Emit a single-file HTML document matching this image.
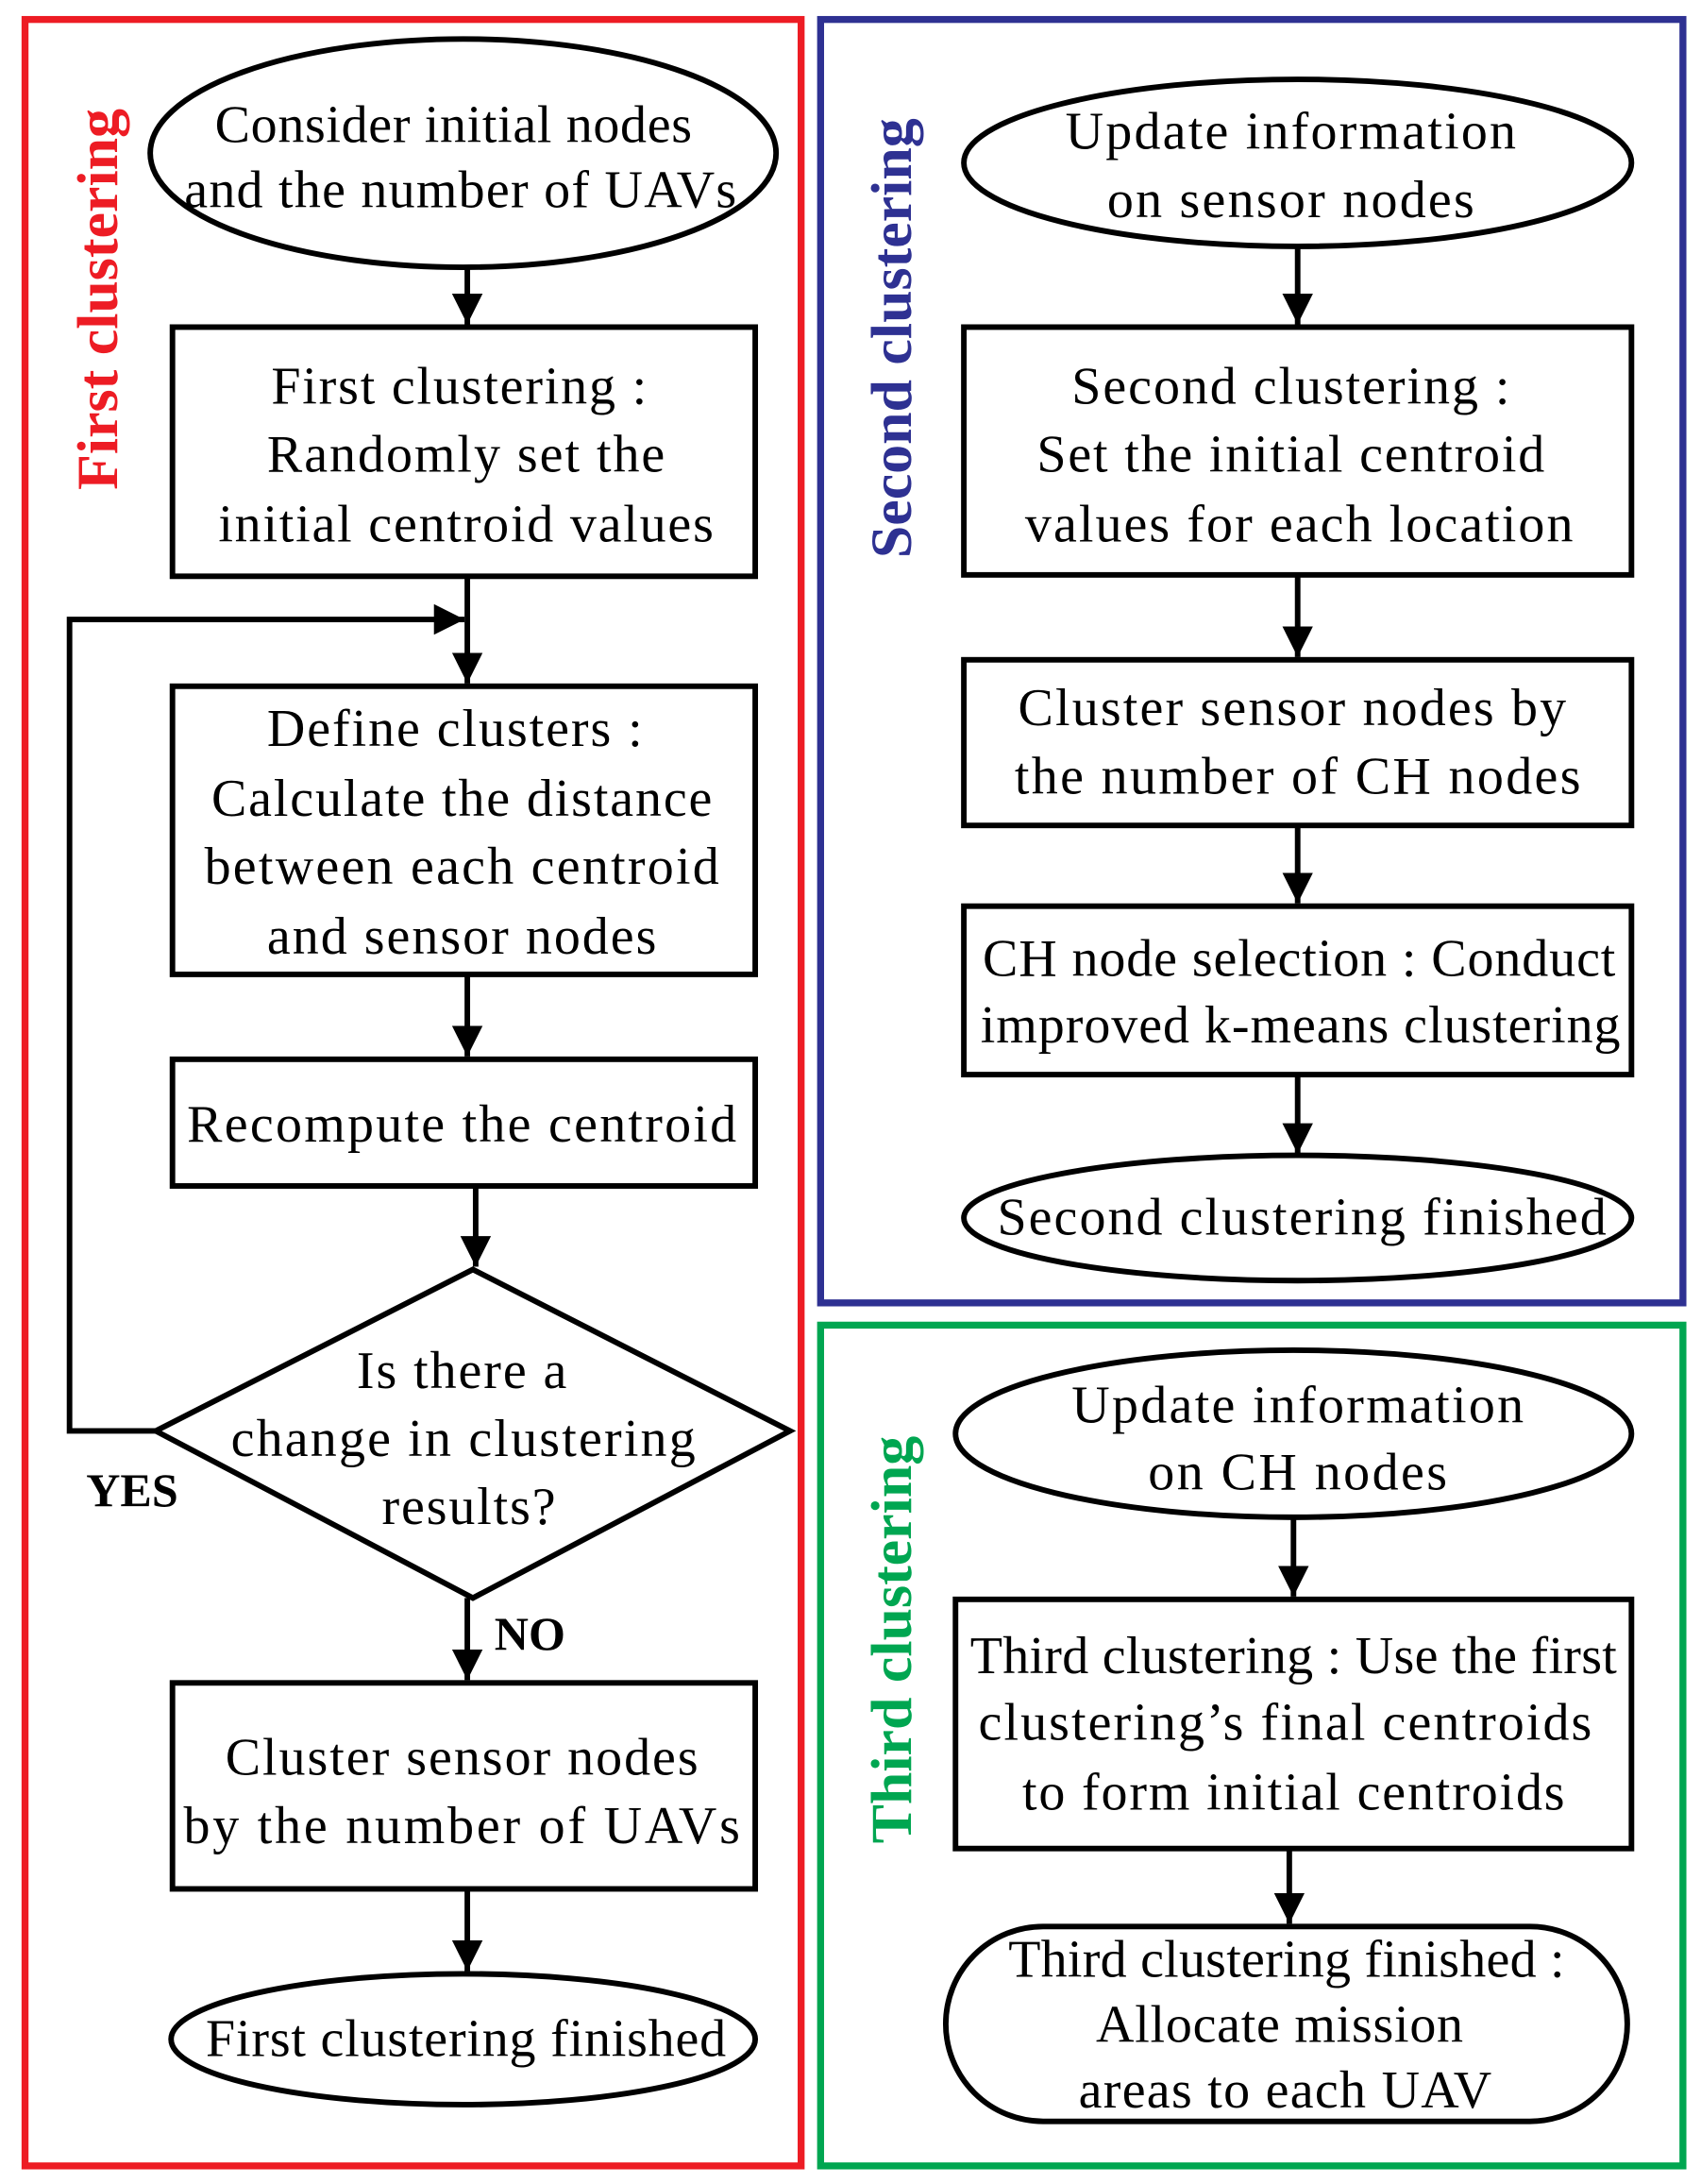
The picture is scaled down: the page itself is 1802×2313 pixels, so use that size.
<!DOCTYPE html>
<html><head><meta charset="utf-8"><style>
html,body{margin:0;padding:0;background:#fff;}
svg{display:block;}
text{font-family:"Liberation Serif",serif;font-size:38px;fill:#000;text-anchor:middle;}
.lab{font-weight:bold;font-size:42px;}
</style></head><body>
<svg width="1802" height="2313" viewBox="0 0 1223 1569" preserveAspectRatio="none" xmlns="http://www.w3.org/2000/svg">
<defs><marker id="b" viewBox="0 0 10 10" markerWidth="22" markerHeight="22" refX="10" refY="5" orient="auto" markerUnits="userSpaceOnUse"><path d="M0,0 L10,5 L0,10 Z" fill="#000"/></marker></defs>
<rect x="18" y="14" width="558" height="1542" fill="none" stroke="#ed1c24" stroke-width="5"/>
<rect x="590" y="14" width="620" height="922" fill="none" stroke="#2e3192" stroke-width="5"/>
<rect x="590" y="952" width="620" height="604" fill="none" stroke="#00a651" stroke-width="5"/>
<g fill="none" stroke="#000" stroke-width="4">
<ellipse cx="333" cy="110" rx="225" ry="82"/>
<rect x="124" y="235" width="419" height="179"/>
<rect x="124" y="493" width="419" height="207"/>
<rect x="124" y="761" width="419" height="91"/>
<path d="M340,912 L568,1028 L340,1148 L112,1028 Z"/>
<rect x="124" y="1209" width="419" height="148"/>
<ellipse cx="333" cy="1465" rx="210" ry="47"/>
<ellipse cx="933" cy="117" rx="240" ry="60"/>
<rect x="693" y="235" width="480" height="178"/>
<rect x="693" y="474" width="480" height="119"/>
<rect x="693" y="651" width="480" height="121"/>
<ellipse cx="933" cy="875" rx="240" ry="45"/>
<ellipse cx="930" cy="1030" rx="243" ry="60"/>
<rect x="687" y="1149" width="486" height="179"/>
<rect x="680" y="1384" width="490" height="140" rx="70"/>
</g>
<g stroke="#000" stroke-width="4" fill="none" marker-end="url(#b)">
<line x1="336" y1="192" x2="336" y2="233"/>
<line x1="336" y1="414" x2="336" y2="491"/>
<polyline points="112,1028 50,1028 50,445 334,445"/>
<line x1="336" y1="700" x2="336" y2="759"/>
<line x1="342" y1="852" x2="342" y2="910"/>
<line x1="336" y1="1148" x2="336" y2="1207"/>
<line x1="336" y1="1357" x2="336" y2="1416"/>
<line x1="933" y1="177" x2="933" y2="233"/>
<line x1="933" y1="413" x2="933" y2="472"/>
<line x1="933" y1="593" x2="933" y2="649"/>
<line x1="933" y1="772" x2="933" y2="829"/>
<line x1="930" y1="1090" x2="930" y2="1147"/>
<line x1="927" y1="1328" x2="927" y2="1382"/>
</g>
<g lengthAdjust="spacingAndGlyphs">
<text x="326" y="102" textLength="343">Consider initial nodes</text>
<text x="331" y="149" textLength="397">and the number of UAVs</text>
<text x="330" y="290" textLength="270">First clustering :</text>
<text x="335" y="339" textLength="286">Randomly set the</text>
<text x="335" y="389" textLength="356">initial centroid values</text>
<text x="327" y="536" textLength="270">Define clusters :</text>
<text x="332" y="586" textLength="360">Calculate the distance</text>
<text x="332" y="635" textLength="370">between each centroid</text>
<text x="332" y="685" textLength="280">and sensor nodes</text>
<text x="332" y="820" textLength="395">Recompute the centroid</text>
<text x="332" y="997" textLength="151">Is there a</text>
<text x="333" y="1046" textLength="334">change in clustering</text>
<text x="337" y="1095" textLength="125">results?</text>
<text x="332" y="1275" textLength="340">Cluster sensor nodes</text>
<text x="332" y="1324" textLength="400">by the number of UAVs</text>
<text x="335" y="1477" textLength="374">First clustering finished</text>
<text x="928" y="107" textLength="324">Update information</text>
<text x="928" y="156" textLength="264">on sensor nodes</text>
<text x="928" y="290" textLength="315">Second clustering :</text>
<text x="928" y="339" textLength="365">Set the initial centroid</text>
<text x="934" y="389" textLength="394">values for each location</text>
<text x="929" y="521" textLength="394">Cluster sensor nodes by</text>
<text x="933" y="570" textLength="407">the number of CH nodes</text>
<text x="934" y="701" textLength="455">CH node selection : Conduct</text>
<text x="935" y="749" textLength="460">improved k-means clustering</text>
<text x="936" y="887" textLength="438">Second clustering finished</text>
<text x="933" y="1022" textLength="325">Update information</text>
<text x="933" y="1070" textLength="215">on CH nodes</text>
<text x="930" y="1202" textLength="465">Third clustering : Use the first</text>
<text x="924" y="1250" textLength="441">clustering’s final centroids</text>
<text x="930" y="1300" textLength="390">to form initial centroids</text>
<text x="925" y="1420" textLength="400">Third clustering finished :</text>
<text x="920" y="1467" textLength="264">Allocate mission</text>
<text x="924" y="1514" textLength="297">areas to each UAV</text>
</g>
<text x="95" y="1082" style="font-weight:bold;font-size:34px">YES</text>
<text x="381" y="1185" style="font-weight:bold;font-size:34px">NO</text>
<text class="lab" x="-215" y="84" transform="rotate(-90)" style="fill:#ed1c24">First clustering</text>
<text class="lab" x="-243" y="655" transform="rotate(-90)" style="fill:#2e3192">Second clustering</text>
<text class="lab" x="-1178" y="655" transform="rotate(-90)" style="fill:#00a651">Third clustering</text>
</svg>
</body></html>
